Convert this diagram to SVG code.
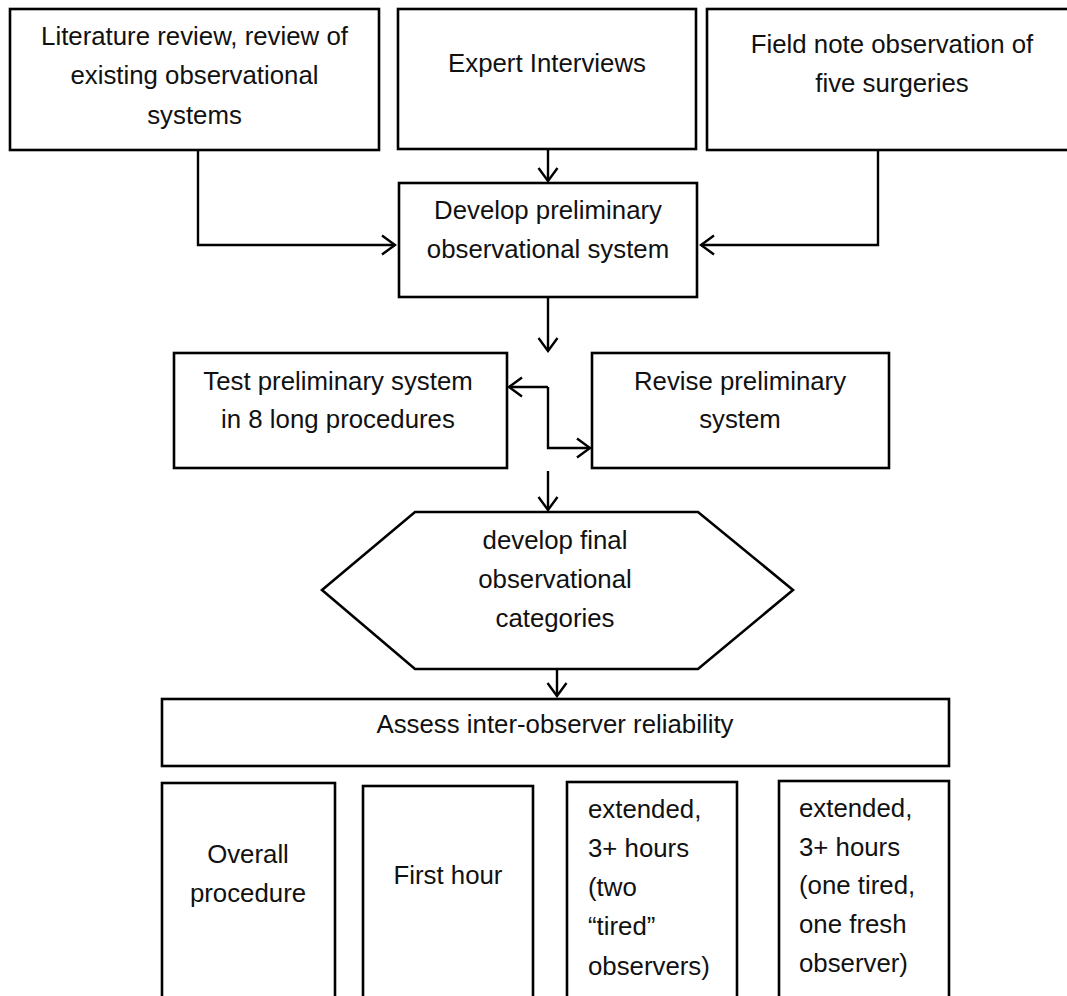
<svg xmlns="http://www.w3.org/2000/svg" width="1067" height="996" viewBox="0 0 1067 996">
<style>
.box{fill:#fff;stroke:#000;stroke-width:2.6}
.t{font-family:"Liberation Sans",Arial,sans-serif;font-size:25.8px;fill:#111;text-anchor:middle}
.l{text-anchor:start}
.c{fill:none;stroke:#000;stroke-width:2.4}
</style>
<defs>
<marker id="ah" markerUnits="userSpaceOnUse" viewBox="-16 -12 18 24" refX="0" refY="0" markerWidth="18" markerHeight="24" orient="auto">
<path d="M-13,-9.5 L0,0 L-13,9.5" fill="none" stroke="#000" stroke-width="2.4"/>
</marker>
</defs>
<rect width="1067" height="996" fill="#fff"/>
<g id="connectors">
<path class="c" d="M198,150 V245 H395" marker-end="url(#ah)"/>
<path class="c" d="M548,150 V181" marker-end="url(#ah)"/>
<path class="c" d="M878,148 V245 H701" marker-end="url(#ah)"/>
<path class="c" d="M548,297 V351" marker-end="url(#ah)"/>
<path class="c" d="M548,387 H509" marker-end="url(#ah)"/>
<path class="c" d="M548,387 V448 H590" marker-end="url(#ah)"/>
<path class="c" d="M548,471 V510" marker-end="url(#ah)"/>
<path class="c" d="M557,655 V696" marker-end="url(#ah)"/>
</g>
<g id="n1"><rect class="box" x="10" y="9" width="369" height="141"/>
<text class="t" x="194.5" y="45">Literature review, review of</text>
<text class="t" x="194.5" y="84">existing observational</text>
<text class="t" x="194.5" y="124">systems</text></g>
<g id="n2"><rect class="box" x="398" y="9" width="298" height="140"/>
<text class="t" x="547" y="72">Expert Interviews</text></g>
<g id="n3"><rect class="box" x="707" y="9" width="380" height="141"/>
<text class="t" x="892" y="53">Field note observation of</text>
<text class="t" x="892" y="92">five surgeries</text></g>
<g id="n4"><rect class="box" x="399" y="183" width="298" height="114"/>
<text class="t" x="548" y="219">Develop preliminary</text>
<text class="t" x="548" y="258">observational system</text></g>
<g id="n5"><rect class="box" x="174" y="353" width="333" height="115"/>
<text class="t" x="338" y="390">Test preliminary system</text>
<text class="t" x="338" y="428">in 8 long procedures</text></g>
<g id="n6"><rect class="box" x="592" y="353" width="297" height="115"/>
<text class="t" x="740" y="390">Revise preliminary</text>
<text class="t" x="740" y="428">system</text></g>
<g id="n7"><polygon class="box" points="415,512 698,512 793,590 698,669 415,669 322,590"/>
<text class="t" x="555" y="549">develop final</text>
<text class="t" x="555" y="588">observational</text>
<text class="t" x="555" y="627">categories</text></g>
<g id="n8"><rect class="box" x="162" y="699" width="787" height="67"/>
<text class="t" x="555" y="733">Assess inter-observer reliability</text></g>
<g id="n9"><rect class="box" x="162" y="783" width="173" height="230"/>
<text class="t" x="248" y="863">Overall</text>
<text class="t" x="248" y="902">procedure</text></g>
<g id="n10"><rect class="box" x="363" y="786" width="170" height="230"/>
<text class="t" x="448" y="884">First hour</text></g>
<g id="n11"><rect class="box" x="567" y="782" width="170" height="230"/>
<text class="t l" x="588" y="818">extended,</text>
<text class="t l" x="588" y="857">3+ hours</text>
<text class="t l" x="588" y="896">(two</text>
<text class="t l" x="588" y="935">“tired”</text>
<text class="t l" x="588" y="975">observers)</text></g>
<g id="n12"><rect class="box" x="779" y="781" width="170" height="230"/>
<text class="t l" x="799" y="817">extended,</text>
<text class="t l" x="799" y="856">3+ hours</text>
<text class="t l" x="799" y="894">(one tired,</text>
<text class="t l" x="799" y="933">one fresh</text>
<text class="t l" x="799" y="972">observer)</text></g>
</svg>
